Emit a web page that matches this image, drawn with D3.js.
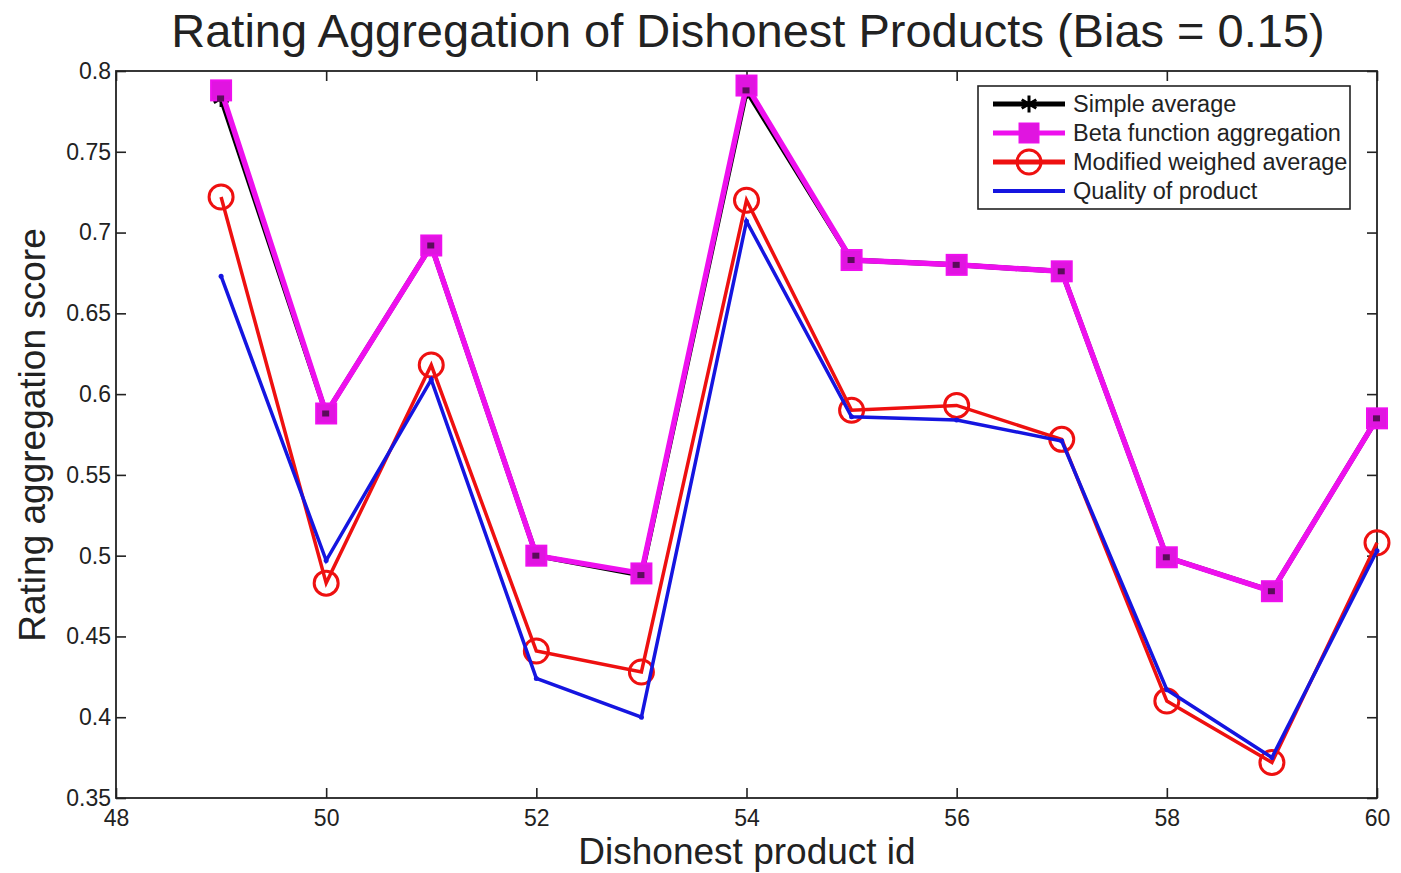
<!DOCTYPE html>
<meta charset="utf-8">
<style>
    body { margin: 0; background: #fff; }
    text { font-family: "Liberation Sans", Arial, sans-serif; fill: #222; }
    .axis path, .axis line { stroke: #222; stroke-width: 1.6px; }
</style>
<body>
    <svg width="1401" height="873"></svg>
</body>
<script src="https://d3js.org/d3.v7.min.js"></script>
<script>
    // product ids on the x axis
    var productIds = [49, 50, 51, 52, 53, 54, 55, 56, 57, 58, 59, 60];

    var simpleAverage = [0.783, 0.588, 0.692, 0.500, 0.488, 0.788, 0.683, 0.680, 0.676, 0.499, 0.478, 0.585];
    var betaAggregation = [0.788, 0.588, 0.692, 0.500, 0.489, 0.791, 0.683, 0.680, 0.676, 0.499, 0.478, 0.585];
    var modifiedWeighed = [0.722, 0.483, 0.618, 0.441, 0.428, 0.720, 0.590, 0.593, 0.572, 0.410, 0.372, 0.508];
    var productQuality = [0.673, 0.497, 0.609, 0.424, 0.400, 0.707, 0.586, 0.584, 0.571, 0.417, 0.375, 0.503];

    var seriesNames = ["Simple average", "Beta function aggregation", "Modified weighed average", "Quality of product"];

    var svg = d3.select("svg"),
        pLeft = 116, pRight = 1377, pTop = 71, pBottom = 798;

    var x = d3.scaleLinear().domain([48, 60]).range([pLeft, pRight]);
    var y = d3.scaleLinear().domain([0.35, 0.8]).range([pBottom, pTop]);

    var xTicks = d3.range(48, 61, 2);
    var yTicks = d3.range(0.35, 0.8001, 0.05);

    // axes, ticks pointing inward like matlab
    svg.append("g").attr("class", "axis")
        .attr("transform", "translate(0," + pBottom + ")")
        .call(d3.axisBottom(x).tickValues(xTicks).tickSizeInner(-10).tickSizeOuter(0).tickPadding(12).tickFormat(d3.format("d")));
    svg.append("g").attr("class", "axis")
        .attr("transform", "translate(0," + pTop + ")")
        .call(d3.axisTop(x).tickValues(xTicks).tickSizeInner(-10).tickSizeOuter(0).tickFormat(""));
    svg.append("g").attr("class", "axis")
        .attr("transform", "translate(" + pLeft + ",0)")
        .call(d3.axisLeft(y).tickValues(yTicks).tickSizeInner(-10).tickSizeOuter(0).tickPadding(5)
            .tickFormat(function (d) { return +d.toFixed(2) + ""; }));
    svg.append("g").attr("class", "axis")
        .attr("transform", "translate(" + pRight + ",0)")
        .call(d3.axisRight(y).tickValues(yTicks).tickSizeInner(-10).tickSizeOuter(0).tickFormat(""));

    svg.selectAll(".axis .domain").remove();
    svg.selectAll(".axis text").style("font-size", "23px").style("font-family", "'Liberation Sans', Arial, sans-serif").attr("fill", "#2a2a2a");
    svg.append("rect")
        .attr("x", pLeft).attr("y", pTop)
        .attr("width", pRight - pLeft).attr("height", pBottom - pTop)
        .attr("fill", "none").attr("stroke", "#222").attr("stroke-width", 1.8);

    var line = d3.line()
        .x(function (d, i) { return x(productIds[i]); })
        .y(function (d) { return y(d); });

    var g = svg.append("g");

    // simple average (black, star)
    g.append("path").datum(simpleAverage)
        .attr("d", line).attr("fill", "none").attr("stroke", "#000").attr("stroke-width", 5);
    var star = d3.symbol().type(d3.symbolAsterisk).size(200);
    g.selectAll(".star").data(simpleAverage).enter().append("path")
        .attr("transform", function (d, i) { return "translate(" + x(productIds[i]) + "," + y(d) + ")"; })
        .attr("d", star).attr("stroke", "#000").attr("stroke-width", 3);

    // beta (magenta squares)
    g.append("path").datum(betaAggregation)
        .attr("d", line).attr("fill", "none").attr("stroke", "#ee10ee").attr("stroke-width", 5.5);
    g.selectAll(".sq").data(betaAggregation).enter().append("rect")
        .attr("x", function (d, i) { return x(productIds[i]) - 10; })
        .attr("y", function (d) { return y(d) - 10; })
        .attr("width", 20).attr("height", 20)
        .attr("fill", "#e015e0").attr("stroke", "#ee10ee").attr("stroke-width", 2);
    // the dark star shows faintly through the square in the original
    g.selectAll(".sqc").data(simpleAverage).enter().append("rect")
        .attr("x", function (d, i) { return x(productIds[i]) - 4; })
        .attr("y", function (d) { return y(d) - 3; })
        .attr("width", 7).attr("height", 6)
        .attr("fill", "#3a0a3a").attr("opacity", 0.8);

    // modified weighed (red circles)
    g.append("path").datum(modifiedWeighed)
        .attr("d", line).attr("fill", "none").attr("stroke", "#ee1010").attr("stroke-width", 3.5);
    g.selectAll(".circ").data(modifiedWeighed).enter().append("circle")
        .attr("cx", function (d, i) { return x(productIds[i]); })
        .attr("cy", function (d) { return y(d); })
        .attr("r", 12).attr("fill", "none").attr("stroke", "#ee1010").attr("stroke-width", 3);

    // product quality (blue)
    g.append("path").datum(productQuality)
        .attr("d", line).attr("fill", "none").attr("stroke", "#1515e0").attr("stroke-width", 3.5);
    g.selectAll(".dot").data(productQuality).enter().append("circle")
        .attr("cx", function (d, i) { return x(productIds[i]); })
        .attr("cy", function (d) { return y(d); })
        .attr("r", 2.5).attr("fill", "#1515e0");

    // legend
    var lg = svg.append("g").attr("transform", "translate(978,86)");
    lg.append("rect").attr("width", 372).attr("height", 123)
        .attr("fill", "#fff").attr("stroke", "#222").attr("stroke-width", 1.6);
    var colors = ["#000", "#ee10ee", "#ee1010", "#1515e0"];
    seriesNames.forEach(function (name, i) {
        var yy = 18 + i * 29, cx = 51;
        lg.append("line").attr("x1", 15).attr("x2", 87).attr("y1", yy).attr("y2", yy)
            .attr("stroke", colors[i]).attr("stroke-width", i == 3 ? 4 : 5);
        if (i == 0) lg.append("path").attr("transform", "translate(" + cx + "," + yy + ")")
            .attr("d", star).attr("stroke", "#000").attr("stroke-width", 3);
        if (i == 1) lg.append("rect").attr("x", cx - 10).attr("y", yy - 10).attr("width", 20).attr("height", 20)
            .attr("fill", "#e015e0").attr("stroke", "#ee10ee");
        if (i == 2) lg.append("circle").attr("cx", cx).attr("cy", yy).attr("r", 12)
            .attr("fill", "none").attr("stroke", "#ee1010").attr("stroke-width", 3);
        if (i == 3) lg.append("circle").attr("cx", cx).attr("cy", yy).attr("r", 2).attr("fill", "#1515e0");
        lg.append("text").attr("x", 95).attr("y", yy + 8).style("font-size", "23.5px").text(name);
    });

    // titles
    svg.append("text").attr("x", 748).attr("y", 47).attr("text-anchor", "middle")
        .style("font-size", "47px").text("Rating Aggregation of Dishonest Products (Bias = 0.15)");
    svg.append("text").attr("x", 747).attr("y", 864).attr("text-anchor", "middle")
        .style("font-size", "37px").text("Dishonest product id");
    svg.append("text").attr("transform", "translate(45,435) rotate(-90)").attr("text-anchor", "middle")
        .style("font-size", "37px").text("Rating aggregation score");
</script>
